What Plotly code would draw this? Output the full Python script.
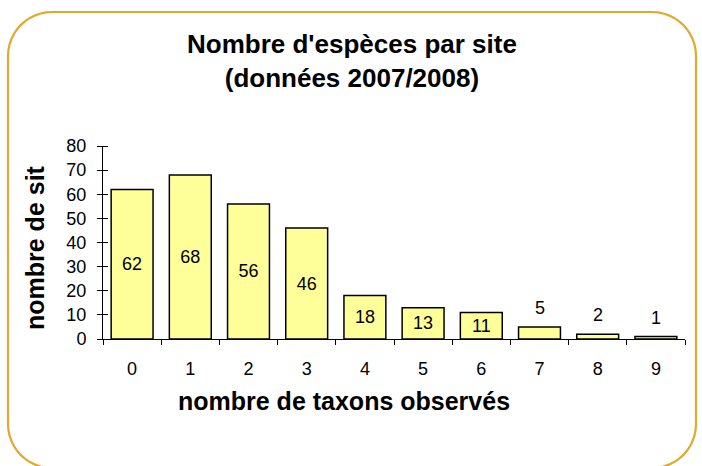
import plotly.graph_objects as go
import math

categories = ["0", "1", "2", "3", "4", "5", "6", "7", "8", "9"]
sites = [62, 68, 56, 46, 18, 13, 11, 5, 2, 1]
y_ticks = [0, 10, 20, 30, 40, 50, 60, 70, 80]

title_lines = ["Nombre d'espèces par site", "(données 2007/2008)"]
x_title = "nombre de taxons observés"
y_title = "nombre de sit"

W, H = 702, 466
L, R, T, B = 103, 17, 146, 127
PW, PH = W - L - R, H - T - B
FONT = "Liberation Sans, Arial"

def px2paper(px, py):
    return (px - L) / PW, (H - B - py) / PH

inside = [v >= 10 for v in sites]

fig = go.Figure()
fig.add_trace(go.Bar(
    x=categories, y=sites,
    text=[str(v) if ins else "" for v, ins in zip(sites, inside)],
    textposition="inside",
    insidetextanchor="middle",
    textfont=dict(family=FONT, size=18, color="black"),
    marker=dict(color="#FFFF99", line=dict(color="black", width=1.5)),
    cliponaxis=False,
    width=0.72,
))
for c, v, ins in zip(categories, sites, inside):
    if not ins:
        fig.add_annotation(x=c, y=v, text=str(v), showarrow=False,
                           yanchor="bottom", yshift=7,
                           font=dict(family=FONT, size=18, color="black"))

# rounded border
x0, x1, y0, y1, r = 8, 696, 12, 468, 44
pts = []
def arc(cx, cy, a0, a1, n=12):
    for i in range(n + 1):
        a = math.radians(a0 + (a1 - a0) * i / n)
        pts.append((cx + r * math.cos(a), cy + r * math.sin(a)))
arc(x0 + r, y0 + r, 180, 270)
arc(x1 - r, y0 + r, 270, 360)
arc(x1 - r, y1 - r, 0, 90)
arc(x0 + r, y1 - r, 90, 180)
path = ""
for i, (px, py) in enumerate(pts):
    u, v = px2paper(px, py)
    path += ("M" if i == 0 else "L") + f"{u:.5f},{v:.5f} "
path += "Z"
fig.add_shape(type="path", path=path, xref="paper", yref="paper",
              line=dict(color="#E1A92E", width=2.2), layer="below")

tx, ty = px2paper(352, 61)
fig.add_annotation(text="<br>".join("<b>" + s + "</b>" for s in title_lines),
                   x=tx, y=ty, xref="paper", yref="paper",
                   showarrow=False, xanchor="center", yanchor="middle",
                   font=dict(family=FONT, size=26, color="black"))
ax_, ay_ = px2paper(344, 401)
fig.add_annotation(text="<b>" + x_title + "</b>", x=ax_, y=ay_, xref="paper", yref="paper",
                   showarrow=False, xanchor="center", yanchor="middle",
                   font=dict(family=FONT, size=25, color="black"))
bx, by = px2paper(35, 248)
fig.add_annotation(text="<b>" + y_title + "</b>", x=bx, y=by, xref="paper", yref="paper",
                   showarrow=False, xanchor="center", yanchor="middle", textangle=-90,
                   font=dict(family=FONT, size=25, color="black"))

fig.update_layout(
    width=W, height=H,
    margin=dict(l=L, r=R, t=T, b=B),
    paper_bgcolor="white", plot_bgcolor="white",
    showlegend=False,
    uniformtext=dict(minsize=18, mode="show"),
    font=dict(family=FONT, size=18, color="black"),
)
fig.update_xaxes(type="category", showline=True, linecolor="black", linewidth=1,
                 ticks="outside", ticklen=5, tickcolor="black", tickson="boundaries",
                 ticklabelstandoff=13, showgrid=False, zeroline=False,
                 tickfont=dict(size=18))
fig.update_yaxes(range=[0, 80], tickvals=y_ticks, showline=True, linecolor="black",
                 linewidth=1, ticks="outside", ticklen=5, tickcolor="black",
                 ticklabelstandoff=7, showgrid=False, zeroline=False,
                 tickfont=dict(size=18),
                 minor=dict(tickvals=y_ticks, ticks="inside", ticklen=5,
                            tickcolor="black", showgrid=False))

fig.write_html("out.html", config={"displayModeBar": False},
               post_script="document.body.style.margin='0';document.body.style.overflow='hidden';")
